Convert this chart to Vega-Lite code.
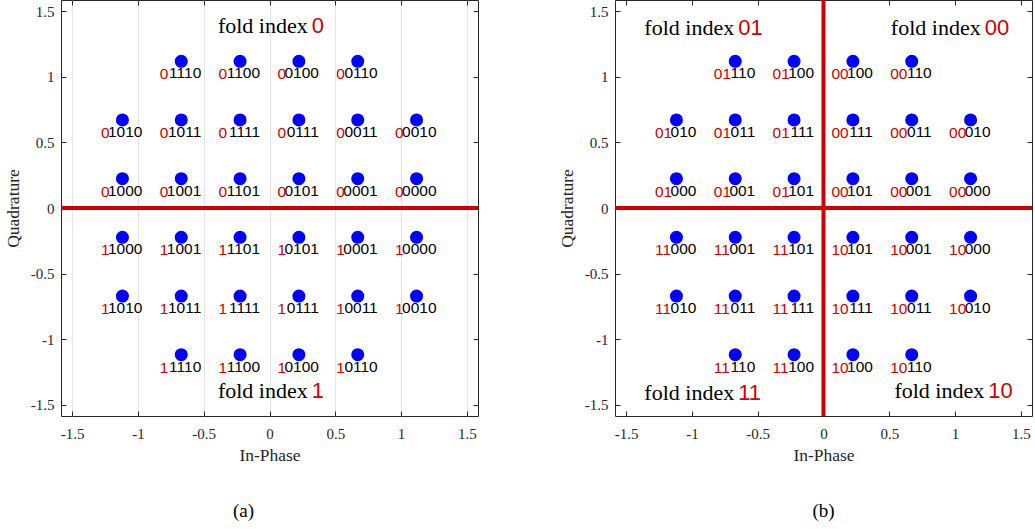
{
  "$schema": "https://vega.github.io/schema/vega-lite/v6.json",
  "autosize": {"type": "pad"},
  "padding": {"left": 3, "top": -3, "right": 0, "bottom": 0},
  "background": "white",
  "spacing": 76,
  "config": {
    "view": {"stroke": "#262626", "strokeWidth": 1},
    "axis": {
      "labelFont": "Liberation Serif",
      "labelFontSize": 15,
      "labelColor": "#262626",
      "labelFlush": false,
      "titleFont": "Liberation Serif",
      "titleFontSize": 17.5,
      "titleFontWeight": "normal",
      "titleColor": "#262626",
      "gridColor": "#e3e3e3",
      "gridWidth": 1,
      "tickColor": "#262626",
      "tickSize": -5,
      "domain": false
    },
    "title": {"font": "Liberation Serif", "fontSize": 19, "fontWeight": "normal", "color": "#000000"}
  },
  "datasets": {
    "points": [
      {"i": -0.6708, "q": 1.118, "a_hi": "0", "a_lo": "1110", "b_hi": "01", "b_lo": "110"},
      {"i": -0.2236, "q": 1.118, "a_hi": "0", "a_lo": "1100", "b_hi": "01", "b_lo": "100"},
      {"i": 0.2236, "q": 1.118, "a_hi": "0", "a_lo": "0100", "b_hi": "00", "b_lo": "100"},
      {"i": 0.6708, "q": 1.118, "a_hi": "0", "a_lo": "0110", "b_hi": "00", "b_lo": "110"},
      {"i": -1.118, "q": 0.6708, "a_hi": "0", "a_lo": "1010", "b_hi": "01", "b_lo": "010"},
      {"i": -0.6708, "q": 0.6708, "a_hi": "0", "a_lo": "1011", "b_hi": "01", "b_lo": "011"},
      {"i": -0.2236, "q": 0.6708, "a_hi": "0", "a_lo": "1111", "b_hi": "01", "b_lo": "111"},
      {"i": 0.2236, "q": 0.6708, "a_hi": "0", "a_lo": "0111", "b_hi": "00", "b_lo": "111"},
      {"i": 0.6708, "q": 0.6708, "a_hi": "0", "a_lo": "0011", "b_hi": "00", "b_lo": "011"},
      {"i": 1.118, "q": 0.6708, "a_hi": "0", "a_lo": "0010", "b_hi": "00", "b_lo": "010"},
      {"i": -1.118, "q": 0.2236, "a_hi": "0", "a_lo": "1000", "b_hi": "01", "b_lo": "000"},
      {"i": -0.6708, "q": 0.2236, "a_hi": "0", "a_lo": "1001", "b_hi": "01", "b_lo": "001"},
      {"i": -0.2236, "q": 0.2236, "a_hi": "0", "a_lo": "1101", "b_hi": "01", "b_lo": "101"},
      {"i": 0.2236, "q": 0.2236, "a_hi": "0", "a_lo": "0101", "b_hi": "00", "b_lo": "101"},
      {"i": 0.6708, "q": 0.2236, "a_hi": "0", "a_lo": "0001", "b_hi": "00", "b_lo": "001"},
      {"i": 1.118, "q": 0.2236, "a_hi": "0", "a_lo": "0000", "b_hi": "00", "b_lo": "000"},
      {"i": -1.118, "q": -0.2236, "a_hi": "1", "a_lo": "1000", "b_hi": "11", "b_lo": "000"},
      {"i": -0.6708, "q": -0.2236, "a_hi": "1", "a_lo": "1001", "b_hi": "11", "b_lo": "001"},
      {"i": -0.2236, "q": -0.2236, "a_hi": "1", "a_lo": "1101", "b_hi": "11", "b_lo": "101"},
      {"i": 0.2236, "q": -0.2236, "a_hi": "1", "a_lo": "0101", "b_hi": "10", "b_lo": "101"},
      {"i": 0.6708, "q": -0.2236, "a_hi": "1", "a_lo": "0001", "b_hi": "10", "b_lo": "001"},
      {"i": 1.118, "q": -0.2236, "a_hi": "1", "a_lo": "0000", "b_hi": "10", "b_lo": "000"},
      {"i": -1.118, "q": -0.6708, "a_hi": "1", "a_lo": "1010", "b_hi": "11", "b_lo": "010"},
      {"i": -0.6708, "q": -0.6708, "a_hi": "1", "a_lo": "1011", "b_hi": "11", "b_lo": "011"},
      {"i": -0.2236, "q": -0.6708, "a_hi": "1", "a_lo": "1111", "b_hi": "11", "b_lo": "111"},
      {"i": 0.2236, "q": -0.6708, "a_hi": "1", "a_lo": "0111", "b_hi": "10", "b_lo": "111"},
      {"i": 0.6708, "q": -0.6708, "a_hi": "1", "a_lo": "0011", "b_hi": "10", "b_lo": "011"},
      {"i": 1.118, "q": -0.6708, "a_hi": "1", "a_lo": "0010", "b_hi": "10", "b_lo": "010"},
      {"i": -0.6708, "q": -1.118, "a_hi": "1", "a_lo": "1110", "b_hi": "11", "b_lo": "110"},
      {"i": -0.2236, "q": -1.118, "a_hi": "1", "a_lo": "1100", "b_hi": "11", "b_lo": "100"},
      {"i": 0.2236, "q": -1.118, "a_hi": "1", "a_lo": "0100", "b_hi": "10", "b_lo": "100"},
      {"i": 0.6708, "q": -1.118, "a_hi": "1", "a_lo": "0110", "b_hi": "10", "b_lo": "110"}
    ],
    "foldA": [
      {"x": 0.306, "y": 1.33, "head": "fold index", "bits": "0"},
      {"x": 0.306, "y": -1.448, "head": "fold index", "bits": "1"}
    ],
    "foldB": [
      {"x": -0.664, "y": 1.318, "head": "fold index", "bits": "01"},
      {"x": 1.21, "y": 1.318, "head": "fold index", "bits": "00"},
      {"x": -0.664, "y": -1.463, "head": "fold index", "bits": "11"},
      {"x": 1.237, "y": -1.45, "head": "fold index", "bits": "10"}
    ]
  },
  "hconcat": [
    {
      "width": 417,
      "height": 416,
      "title": {"text": "(a)", "orient": "bottom", "anchor": "middle", "dx": -26, "offset": 38},
      "layer": [
        {
          "data": {"values": [{"level": 0}]},
          "mark": {"type": "rule", "color": "#cc0000", "strokeWidth": 4},
          "encoding": {"y": {"field": "level", "type": "quantitative", "axis": null}}
        },
        {
          "data": {"name": "points"},
          "mark": {"type": "circle", "size": 170, "color": "#0000ff", "opacity": 1},
          "encoding": {
            "x": {"field": "i", "type": "quantitative",
                  "scale": {"domain": [-1.585, 1.585], "nice": false, "zero": false},
                  "axis": {"orient": "bottom", "title": "In-Phase", "values": [-1.5, -1, -0.5, 0, 0.5, 1, 1.5], "labelExpr": "'' + datum.value", "labelPadding": 15, "titlePadding": 5}},
            "y": {"field": "q", "type": "quantitative",
                  "scale": {"domain": [-1.585, 1.585], "nice": false, "zero": false},
                  "axis": {"orient": "left", "title": "Quadrature", "values": [-1.5, -1, -0.5, 0, 0.5, 1, 1.5], "labelExpr": "'' + datum.value", "labelPadding": 12, "titlePadding": 8}}
          }
        },
        {
          "data": {"name": "points"},
          "mark": {"type": "text", "align": "right", "baseline": "alphabetic", "dx": 20, "dy": 17, "font": "Liberation Sans", "fontSize": 15.5, "color": "#000000"},
          "encoding": {
            "x": {"field": "i", "type": "quantitative", "axis": null},
            "y": {"field": "q", "type": "quantitative", "axis": null},
            "text": {"field": "a_lo"}
          }
        },
        {
          "data": {"name": "points"},
          "mark": {"type": "text", "align": "left", "baseline": "alphabetic", "dx": -21.5, "dy": 18, "font": "Liberation Sans", "fontSize": 15.5, "color": "#cc0000"},
          "encoding": {
            "x": {"field": "i", "type": "quantitative",
                  "axis": {"orient": "top", "title": null, "labels": false, "grid": false, "values": [-1.5, -1, -0.5, 0, 0.5, 1, 1.5]}},
            "y": {"field": "q", "type": "quantitative",
                  "axis": {"orient": "right", "title": null, "labels": false, "grid": false, "values": [-1.5, -1, -0.5, 0, 0.5, 1, 1.5]}},
            "text": {"field": "a_hi"}
          }
        },
        {
          "data": {"name": "foldA"},
          "mark": {"type": "text", "align": "right", "baseline": "alphabetic", "dx": -2, "font": "Liberation Serif", "fontSize": 22, "color": "#000000"},
          "encoding": {
            "x": {"field": "x", "type": "quantitative", "axis": null},
            "y": {"field": "y", "type": "quantitative", "axis": null},
            "text": {"field": "head"}
          }
        },
        {
          "data": {"name": "foldA"},
          "mark": {"type": "text", "align": "left", "baseline": "alphabetic", "dx": 2, "font": "Liberation Sans", "fontSize": 22, "color": "#cc0000"},
          "encoding": {
            "x": {"field": "x", "type": "quantitative", "axis": null},
            "y": {"field": "y", "type": "quantitative", "axis": null},
            "text": {"field": "bits"}
          }
        }
      ]
    },
    {
      "width": 417,
      "height": 416,
      "title": {"text": "(b)", "orient": "bottom", "anchor": "middle", "dx": 0, "offset": 38},
      "layer": [
        {
          "data": {"values": [{"level": 0}]},
          "mark": {"type": "rule", "color": "#cc0000", "strokeWidth": 4},
          "encoding": {"y": {"field": "level", "type": "quantitative", "axis": null}}
        },
        {
          "data": {"values": [{"level": 0}]},
          "mark": {"type": "rule", "color": "#cc0000", "strokeWidth": 4},
          "encoding": {"x": {"field": "level", "type": "quantitative", "axis": null}}
        },
        {
          "data": {"name": "points"},
          "mark": {"type": "circle", "size": 170, "color": "#0000ff", "opacity": 1},
          "encoding": {
            "x": {"field": "i", "type": "quantitative",
                  "scale": {"domain": [-1.585, 1.585], "nice": false, "zero": false},
                  "axis": {"orient": "bottom", "title": "In-Phase", "values": [-1.5, -1, -0.5, 0, 0.5, 1, 1.5], "labelExpr": "'' + datum.value", "labelPadding": 15, "titlePadding": 5}},
            "y": {"field": "q", "type": "quantitative",
                  "scale": {"domain": [-1.585, 1.585], "nice": false, "zero": false},
                  "axis": {"orient": "left", "title": "Quadrature", "values": [-1.5, -1, -0.5, 0, 0.5, 1, 1.5], "labelExpr": "'' + datum.value", "labelPadding": 12, "titlePadding": 8}}
          }
        },
        {
          "data": {"name": "points"},
          "mark": {"type": "text", "align": "right", "baseline": "alphabetic", "dx": 20, "dy": 17, "font": "Liberation Sans", "fontSize": 15.5, "color": "#000000"},
          "encoding": {
            "x": {"field": "i", "type": "quantitative", "axis": null},
            "y": {"field": "q", "type": "quantitative", "axis": null},
            "text": {"field": "b_lo"}
          }
        },
        {
          "data": {"name": "points"},
          "mark": {"type": "text", "align": "left", "baseline": "alphabetic", "dx": -21.5, "dy": 18, "font": "Liberation Sans", "fontSize": 15.5, "color": "#cc0000"},
          "encoding": {
            "x": {"field": "i", "type": "quantitative",
                  "axis": {"orient": "top", "title": null, "labels": false, "grid": false, "values": [-1.5, -1, -0.5, 0, 0.5, 1, 1.5]}},
            "y": {"field": "q", "type": "quantitative",
                  "axis": {"orient": "right", "title": null, "labels": false, "grid": false, "values": [-1.5, -1, -0.5, 0, 0.5, 1, 1.5]}},
            "text": {"field": "b_hi"}
          }
        },
        {
          "data": {"name": "foldB"},
          "mark": {"type": "text", "align": "right", "baseline": "alphabetic", "dx": -2, "font": "Liberation Serif", "fontSize": 22, "color": "#000000"},
          "encoding": {
            "x": {"field": "x", "type": "quantitative", "axis": null},
            "y": {"field": "y", "type": "quantitative", "axis": null},
            "text": {"field": "head"}
          }
        },
        {
          "data": {"name": "foldB"},
          "mark": {"type": "text", "align": "left", "baseline": "alphabetic", "dx": 2, "font": "Liberation Sans", "fontSize": 22, "color": "#cc0000"},
          "encoding": {
            "x": {"field": "x", "type": "quantitative", "axis": null},
            "y": {"field": "y", "type": "quantitative", "axis": null},
            "text": {"field": "bits"}
          }
        }
      ]
    }
  ]
}
